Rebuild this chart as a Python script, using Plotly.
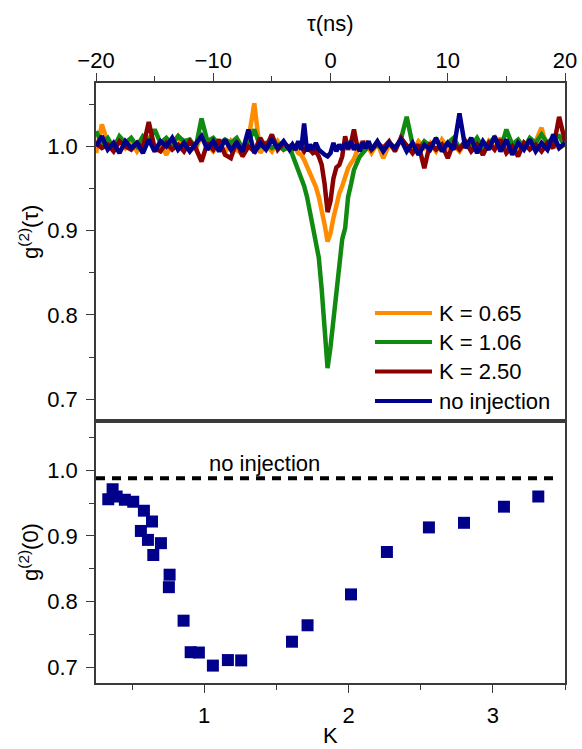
import plotly.graph_objects as go

# ---------------- data ----------------
tau = [-20, -19.5, -19, -18.5, -18, -17.5, -17, -16.5, -16, -15.5, -15, -14.5, -14, -13.5, -13, -12.5,
       -12, -11.5, -11, -10.5, -10, -9.5, -9, -8.5, -8, -7.5, -7, -6.5, -6, -5.5, -5, -4.5, -4, -3.5,
       -3.25, -3, -2.75, -2.5, -2.25, -2, -1.75, -1.5, -1.25, -1, -0.75, -0.5, -0.25, 0, 0.25, 0.5,
       0.75, 1, 1.25, 1.5, 1.75, 2, 2.25, 2.5, 2.75, 3, 3.25,
       3.5, 4, 4.5, 5, 5.5, 6, 6.5, 7, 7.5, 8, 8.5, 9, 9.5, 10, 10.5, 11, 11.5, 12, 12.5, 13, 13.5, 14,
       14.5, 15, 15.5, 16, 16.5, 17, 17.5, 18, 18.5, 19, 19.5, 20]

g2_k065 = [0.992, 1.026, 1.004, 0.996, 1.008, 0.998, 1.006, 0.994, 1.004, 1.010, 0.996, 1.002, 0.990, 1.004,
           1.012, 0.998, 1.006, 0.996, 1.014, 1.002, 0.994, 1.004, 0.992, 1.006, 0.996, 0.990, 1.008, 1.051,
           0.992, 1.002, 0.994, 1.006, 0.996, 1.000,
           0.996, 0.998, 0.992, 0.990, 0.984, 0.976, 0.968, 0.960, 0.952, 0.940, 0.925, 0.907, 0.887, 0.897,
           0.915, 0.930, 0.944, 0.953, 0.966, 0.974, 0.980, 0.985, 0.994, 1.004, 0.996, 1.006, 0.998,
           0.992, 1.004, 0.986, 1.002, 0.996, 1.008, 1.000, 0.994, 1.006, 0.998, 1.004, 0.994, 1.008, 0.998,
           1.002, 0.994, 1.006, 0.996, 1.004, 0.990, 1.006, 0.998, 1.010, 0.994, 1.002, 0.996, 1.004, 0.998,
           1.006, 1.022, 0.996, 1.004, 0.998, 1.002]

g2_k106 = [1.018, 1.004, 1.010, 0.998, 1.012, 1.004, 1.010, 1.000, 1.012, 1.006, 1.020, 1.004, 1.010, 1.002,
           1.012, 1.006, 1.008, 0.998, 1.033, 1.006, 1.010, 1.002, 1.008, 1.004, 1.010, 0.998, 1.006, 1.020,
           1.000, 1.004, 0.998, 1.002, 0.996, 1.000,
           0.990, 0.980, 0.972, 0.964, 0.953, 0.940, 0.922, 0.903, 0.886, 0.868, 0.830, 0.778, 0.737, 0.762,
           0.792, 0.826, 0.858, 0.890, 0.903, 0.940, 0.955, 0.972, 0.980, 0.988, 0.992, 0.996, 1.000,
           0.996, 1.002, 0.996, 1.004, 0.998, 1.008, 1.035, 1.002, 0.996, 1.006, 1.000, 1.008, 0.998, 1.004,
           1.010, 0.998, 1.006, 1.000, 1.010, 0.998, 1.004, 1.010, 0.996, 1.020, 1.002, 1.008, 0.998, 1.010,
           1.004, 1.014, 1.004, 1.010, 1.012, 1.000]

g2_k250 = [1.004, 0.998, 1.002, 0.994, 1.006, 1.000, 0.996, 1.004, 0.998, 1.029, 0.998, 0.994, 1.004, 0.996,
           1.002, 0.994, 1.006, 0.998, 0.982, 1.004, 0.996, 1.008, 0.990, 0.986, 1.006, 0.988, 1.000, 0.994,
           1.010, 0.998, 1.014, 0.996, 1.004, 0.998,
           1.002, 0.996, 1.004, 0.998, 0.994, 1.000, 0.996, 0.992, 0.994, 0.988, 0.978, 0.955, 0.922, 0.935,
           0.962, 0.975, 0.978, 0.988, 1.012, 0.996, 1.004, 1.020, 1.002, 0.996, 1.006, 0.998, 1.004,
           0.996, 1.004, 0.998, 1.006, 0.994, 1.010, 1.000, 0.992, 1.002, 0.974, 1.004, 0.996, 1.002, 0.986,
           1.004, 0.996, 1.006, 0.994, 1.002, 0.990, 1.004, 0.996, 1.008, 0.992, 1.000, 0.988, 1.004, 0.996,
           1.002, 0.994, 1.004, 0.998, 1.035, 1.006]

g2_noinj = [1.000, 1.012, 0.996, 1.004, 0.992, 1.006, 0.998, 1.004, 0.992, 1.008, 0.994, 1.006, 1.000, 1.010,
            0.996, 1.004, 0.994, 1.002, 1.012, 0.996, 1.006, 0.994, 1.008, 0.996, 1.004, 0.994, 1.020, 0.992,
            1.004, 0.996, 1.008, 0.998, 1.006, 0.996,
            1.002, 0.996, 1.006, 0.996, 1.027, 0.994, 1.002, 0.996, 1.004, 0.996, 0.992, 0.990, 0.988, 0.992,
            1.004, 0.994, 1.002, 0.996, 1.004, 0.998, 1.006, 0.996, 1.002, 0.994, 1.004, 0.998, 1.006,
            0.996, 1.006, 0.994, 1.004, 0.998, 1.008, 0.994, 1.004, 0.990, 1.002, 0.996, 1.010, 0.994, 1.004,
            0.996, 1.039, 0.998, 1.010, 0.992, 1.006, 0.996, 1.012, 0.994, 1.008, 0.990, 1.004, 0.996, 1.008,
            0.994, 1.004, 0.996, 1.014, 0.998, 1.004]

series_names = ["K = 0.65", "K = 1.06", "K = 2.50", "no injection"]
series_colors = ["#FF8C00", "#108A10", "#8B0000", "#00008B"]

K_vals = [0.335, 0.365, 0.393, 0.45, 0.508, 0.582, 0.638, 0.561, 0.61, 0.70, 0.647, 0.76, 0.755, 0.857,
          0.906, 0.963, 1.06, 1.164, 1.256, 1.608, 1.716, 2.017, 2.266, 2.557, 2.80, 3.077, 3.315]
g2_zero = [0.956, 0.971, 0.960, 0.955, 0.952, 0.9385, 0.922, 0.9076, 0.894, 0.889, 0.871, 0.841, 0.822,
           0.771, 0.723, 0.7225, 0.7026, 0.711, 0.7105, 0.739, 0.764, 0.811, 0.8756, 0.913, 0.920, 0.9446,
           0.960]
no_injection_level = 0.988

top_xticks = [-20, -10, 0, 10, 20]
y_ticks = [0.7, 0.8, 0.9, 1.0]
y_ticklabels = ["0.7", "0.8", "0.9", "1.0"]
k_ticks = [1, 2, 3]

# ---------------- figure ----------------
FONT = "Liberation Sans, Arial, sans-serif"
AX = "#3a3a3a"
fig = go.Figure()

for ys, name, col in zip([g2_k065, g2_k106, g2_k250, g2_noinj], series_names, series_colors):
    fig.add_trace(go.Scatter(x=tau, y=ys, mode="lines", name=name, showlegend=False,
                             line=dict(color=col, width=4.5), xaxis="x", yaxis="y"))

fig.add_trace(go.Scatter(x=K_vals, y=g2_zero, mode="markers", showlegend=False,
                         marker=dict(symbol="square", size=12, color="#00008B"),
                         xaxis="x2", yaxis="y2"))

split = 0.4372
common = dict(showline=True, linecolor=AX, linewidth=1.5, mirror=True, ticks="outside",
              ticklen=8, tickwidth=1.2, tickcolor=AX, showgrid=False, zeroline=False,
              automargin=False, ticklabeloverflow="allow",
              tickfont=dict(family=FONT, size=22, color="black"))

fig.update_layout(
    width=582, height=749, autosize=False,
    margin=dict(l=96, r=17, t=83, b=66, autoexpand=False),
    paper_bgcolor="white", plot_bgcolor="white",
    font=dict(family=FONT, size=22, color="black"),
    xaxis=dict(common, domain=[0, 1], anchor="y", side="top", range=[-20, 20],
               tickvals=top_xticks, ticklabelstandoff=-4,
               minor=dict(dtick=5, ticklen=5, ticks="outside", tickcolor=AX)),
    yaxis=dict(common, domain=[split, 1], anchor="x", range=[0.6746, 1.0751],
               tickvals=y_ticks, ticktext=y_ticklabels, ticklabelstandoff=4,
               minor=dict(dtick=0.05, tick0=0.75, ticklen=5, ticks="outside", tickcolor=AX)),
    xaxis2=dict(common, domain=[0, 1], anchor="y2", range=[0.25, 3.5],
                tickvals=k_ticks, ticklabelstandoff=4,
                minor=dict(dtick=0.5, tick0=0.5, ticklen=5, ticks="outside", tickcolor=AX)),
    yaxis2=dict(common, domain=[0, split], anchor="x2", range=[0.6761, 1.0755],
                tickvals=y_ticks, ticktext=y_ticklabels, ticklabelstandoff=4,
                minor=dict(dtick=0.05, tick0=0.75, ticklen=5, ticks="outside", tickcolor=AX)),
)

# no-injection reference level in lower panel
fig.add_shape(type="line", xref="x2 domain", yref="y2", x0=0.0, x1=0.985,
              y0=no_injection_level, y1=no_injection_level,
              line=dict(color="black", width=4, dash="9px,7px"))
fig.add_annotation(x=1.42, y=1.0107, xref="x2", yref="y2", text="no injection", showarrow=False,
                   xanchor="center", yanchor="middle",
                   font=dict(family=FONT, size=22, color="black"))

# axis titles (positions in reference pixels -> paper fractions)
def px_x(p):
    return (p - 96) / 469.0

def px_y(p):
    return (683 - p) / 600.0

def label(xp, yp, text, angle=0, anchor="center"):
    fig.add_annotation(x=px_x(xp), y=px_y(yp), xref="paper", yref="paper", text=text,
                       textangle=angle, showarrow=False, xanchor=anchor, yanchor="middle",
                       font=dict(family=FONT, size=22, color="black"))

label(330, 24, "τ(ns)")
label(330, 735, "K")
label(29, 232, "g<sup>(2)</sup>(τ)", angle=-90)
label(29, 552, "g<sup>(2)</sup>(0)", angle=-90)

# legend (drawn manually for long line samples)
rows = [313, 342, 371.5, 401]
for r, name, col in zip(rows, series_names, series_colors):
    fig.add_shape(type="line", xref="paper", yref="paper", x0=px_x(375), x1=px_x(432),
                  y0=px_y(r), y1=px_y(r), line=dict(color=col, width=4))
    label(437, r, name, anchor="left")

# remove the browser's default page margin so the figure starts at the window's corner
page_fix = "document.body.style.margin='0';document.body.style.overflow='hidden';"
fig.write_html("out.html", config={"responsive": False, "displayModeBar": False},
               post_script=page_fix)
